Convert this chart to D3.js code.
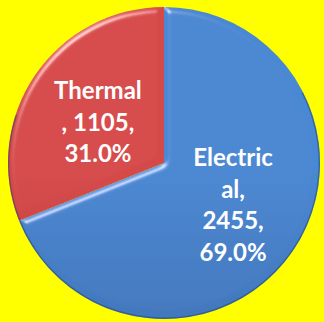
<!DOCTYPE html>
<html>
<head>
<meta charset="utf-8">
<script src="https://cdn.jsdelivr.net/npm/d3@7"></script>
<style>
  html, body { margin: 0; padding: 0; background: #ffff00; }
  #chart { width: 324px; height: 322px; }
</style>
</head>
<body>
<div id="chart"></div>
<script>
// data
var categories = ["Thermal", "Electrical"];
var values = [1105, 2455];
var percents = ["31.0%", "69.0%"];
// where excel wrapped each label
var labelLines = [
  ["Thermal", ", 1105,", "31.0%"],
  ["Electric", "al,", "2455,", "69.0%"]
];
var colors = [
  { light: "#d64a4a", dark: "#b03636" },
  { light: "#4a88d2", dark: "#3966a6" }
];

var width = 324, height = 322;
var cx = 164, cy = 163, r = 156;
// small manual nudges so the labels sit where excel put them
var labelNudge = [[1, 5], [2, -3]];

var svg = d3.select("#chart").append("svg")
  .attr("width", width)
  .attr("height", height);

svg.append("rect").attr("width", width).attr("height", height).attr("fill", "#ffff00");

var defs = svg.append("defs");

colors.forEach(function(c, i) {
  var g = defs.append("linearGradient")
    .attr("id", "grad" + i)
    .attr("gradientUnits", "userSpaceOnUse")
    .attr("x1", 0).attr("y1", cy - r)
    .attr("x2", 0).attr("y2", cy + r);
  g.append("stop").attr("offset", "0%").attr("stop-color", c.light);
  g.append("stop").attr("offset", "100%").attr("stop-color", c.dark);
});

// soft bevel, roughly like the office 2007 look
var f = defs.append("filter").attr("id", "bevel")
  .attr("x", "-10%").attr("y", "-10%").attr("width", "120%").attr("height", "120%");
f.append("feGaussianBlur").attr("in", "SourceAlpha").attr("stdDeviation", 3).attr("result", "blur");
f.append("feSpecularLighting").attr("in", "blur")
  .attr("surfaceScale", 4).attr("specularConstant", 0.9).attr("specularExponent", 40)
  .attr("lighting-color", "#ffffff").attr("result", "spec")
  .append("feDistantLight").attr("azimuth", 235).attr("elevation", 35);
f.append("feComposite").attr("in", "spec").attr("in2", "SourceAlpha").attr("operator", "in").attr("result", "specIn");
f.append("feComposite").attr("in", "SourceGraphic").attr("in2", "specIn")
  .attr("operator", "arithmetic").attr("k1", 0).attr("k2", 1).attr("k3", 0.6).attr("k4", 0);

var startA = -2 * Math.PI * values[0] / d3.sum(values);
var pie = d3.pie().sort(null)
  .startAngle(startA)
  .endAngle(startA + 2 * Math.PI);
var arcs = pie(values);

var arc = d3.arc().innerRadius(0).outerRadius(r);
var labelArc = d3.arc().innerRadius(81).outerRadius(81);

var g = svg.append("g").attr("transform", "translate(" + cx + "," + cy + ")");

g.selectAll("path.slice")
  .data(arcs)
  .enter().append("path")
  .attr("class", "slice")
  .attr("d", arc)
  .attr("fill", function(d, i) { return "url(#grad" + i + ")"; })
  .attr("filter", "url(#bevel)");

// dark rim along the lower edge
g.append("path")
  .attr("d", d3.arc().innerRadius(r - 1.5).outerRadius(r)({ startAngle: Math.PI * 0.35, endAngle: Math.PI * 1.6 }))
  .attr("fill", "#1f3f70")
  .attr("opacity", 0.45);

var lineH = 31.5;
var labels = g.selectAll("text.lbl")
  .data(arcs)
  .enter().append("text")
  .attr("class", "lbl")
  .attr("transform", function(d, i) {
    var c = labelArc.centroid(d);
    return "translate(" + (c[0] + labelNudge[i][0]) + "," + (c[1] + labelNudge[i][1]) + ")";
  })
  .attr("text-anchor", "middle")
  .attr("fill", "#ffffff")
  .style("font-family", "Lato, 'Open Sans', sans-serif")
  .style("font-weight", "bold")
  .style("font-size", "24px");

labels.each(function(d, i) {
  var lines = labelLines[i];
  var t = d3.select(this);
  var y0 = -(lines.length - 1) * lineH / 2 + 8;
  lines.forEach(function(s, k) {
    t.append("tspan").attr("x", 0).attr("y", y0 + k * lineH).text(s);
  });
});
</script>
</body>
</html>
